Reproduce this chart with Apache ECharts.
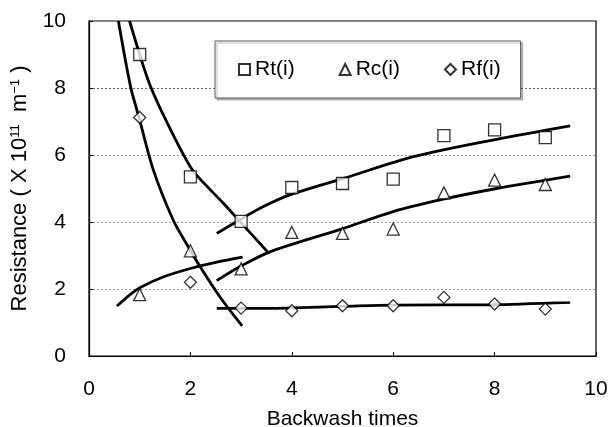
<!DOCTYPE html>
<html>
<head>
<meta charset="utf-8">
<script src="https://cdn.jsdelivr.net/npm/echarts@6/dist/echarts.min.js"></script>
<style>
  html, body { margin: 0; padding: 0; background: #fff; }
  #chart { width: 615px; height: 427px; }
</style>
</head>
<body>
<div id="chart"></div>
<script>
// measured points [backwash times, resistance]
var rtPoints = [[1, 9.0], [2, 5.35], [3, 4.02], [4, 5.03], [5, 5.15], [6, 5.28], [7, 6.58], [8, 6.75], [9, 6.52]];
var rcPoints = [[1, 1.83], [2, 3.14], [3, 2.6], [4, 3.69], [5, 3.66], [6, 3.79], [7, 4.87], [8, 5.25], [9, 5.12]];
var rfPoints = [[1, 7.12], [2, 2.2], [3, 1.43], [4, 1.35], [5, 1.5], [6, 1.5], [7, 1.75], [8, 1.55], [9, 1.4]];

// fitted curves
var rfFall = [[0.58, 10], [0.82, 8.04], [0.99, 7.1], [1.27, 5.55], [1.66, 4.06], [1.92, 3.36], [2.19, 2.67], [2.58, 1.77], [3.02, 0.9]];
var rtFall = [[0.8, 10], [1.0, 9.0], [1.2, 8.1], [1.53, 7.0], [2.02, 5.6], [2.4, 4.95], [2.65, 4.56], [3.01, 3.96], [3.54, 3.08]];
var rcEarly = [[0.55, 1.49], [0.8, 1.82], [1.02, 2.05], [1.46, 2.36], [2.02, 2.62], [2.52, 2.8], [3.03, 2.95]];
var rtRise = [[2.52, 3.66], [2.91, 4.01], [3.44, 4.46], [3.96, 4.81], [5.02, 5.3], [6.4, 5.95], [8.04, 6.47], [9.49, 6.87]];
var rcRise = [[2.52, 2.25], [2.98, 2.67], [3.57, 3.11], [5.02, 3.81], [6.0, 4.31], [6.99, 4.68], [8.04, 5.0], [9.49, 5.37]];
var rfFlat = [[2.52, 1.42], [3.5, 1.42], [5.0, 1.48], [6.0, 1.52], [8.0, 1.53], [9.49, 1.6]];

var fontName = '"Liberation Sans", Arial, sans-serif';

function fitLine(data) {
    return {
        type: 'line',
        data: data,
        smooth: 0.3,
        symbol: 'none',
        silent: true,
        lineStyle: {color: '#000', width: 2.8},
        z: 2
    };
}

function markerSeries(name, symbol, data) {
    return {
        name: name,
        type: 'scatter',
        data: data,
        symbol: symbol,
        symbolSize: 12,
        itemStyle: {color: '#fff', borderColor: '#000', borderWidth: 1.3},
        z: 3
    };
}

var chart = echarts.init(document.getElementById('chart'));
chart.setOption({
    animation: false,
    backgroundColor: '#fff',
    textStyle: {fontFamily: fontName},
    grid: {
        left: 89, right: 19, top: 21, bottom: 71,
        outerBoundsMode: 'none',
        containLabel: false,
        show: true, borderColor: '#000', borderWidth: 1.2
    },
    legend: {
        data: ['Rt(i)', 'Rc(i)', 'Rf(i)'],
        left: 215, top: 41,
        padding: [18, 20, 18, 23],
        itemGap: 44,
        itemWidth: 11, itemHeight: 11,
        backgroundColor: '#fff',
        borderColor: '#555', borderWidth: 1,
        shadowColor: 'rgba(0,0,0,0.25)', shadowOffsetX: 2, shadowOffsetY: 2,
        textStyle: {fontSize: 21, color: '#000', fontFamily: fontName}
    },
    xAxis: {
        type: 'value',
        min: 0, max: 10, interval: 2,
        name: 'Backwash times',
        nameLocation: 'middle',
        nameGap: 53,
        nameTextStyle: {fontSize: 21, color: '#000'},
        axisLine: {lineStyle: {color: '#000', width: 1.2}},
        axisTick: {inside: true, length: 4, lineStyle: {color: '#000'}},
        axisLabel: {fontSize: 21, color: '#000', margin: 23},
        splitLine: {show: false}
    },
    yAxis: {
        type: 'value',
        min: 0, max: 10, interval: 2,
        name: 'Resistance ( X 10{s|11}  m{s|−1} )',
        nameLocation: 'middle',
        nameGap: 40,
        nameTextStyle: {
            fontSize: 22, color: '#000',
            rich: {s: {fontSize: 13, verticalAlign: 'top', lineHeight: 14, padding: [0, 0, 10, 0]}}
        },
        axisLine: {lineStyle: {color: '#000', width: 1.2}},
        axisTick: {inside: true, length: 4, lineStyle: {color: '#000'}},
        axisLabel: {fontSize: 21, color: '#000', margin: 23},
        splitLine: {show: true, lineStyle: {color: ['#999', '#999', '#999', '#999', '#666', '#999'], type: [2, 2], width: 1}}
    },
    series: [
        fitLine(rfFall),
        fitLine(rtFall),
        fitLine(rcEarly),
        fitLine(rtRise),
        fitLine(rcRise),
        fitLine(rfFlat),
        markerSeries('Rt(i)', 'rect', rtPoints),
        markerSeries('Rc(i)', 'triangle', rcPoints),
        markerSeries('Rf(i)', 'diamond', rfPoints)
    ]
});
</script>
</body>
</html>
